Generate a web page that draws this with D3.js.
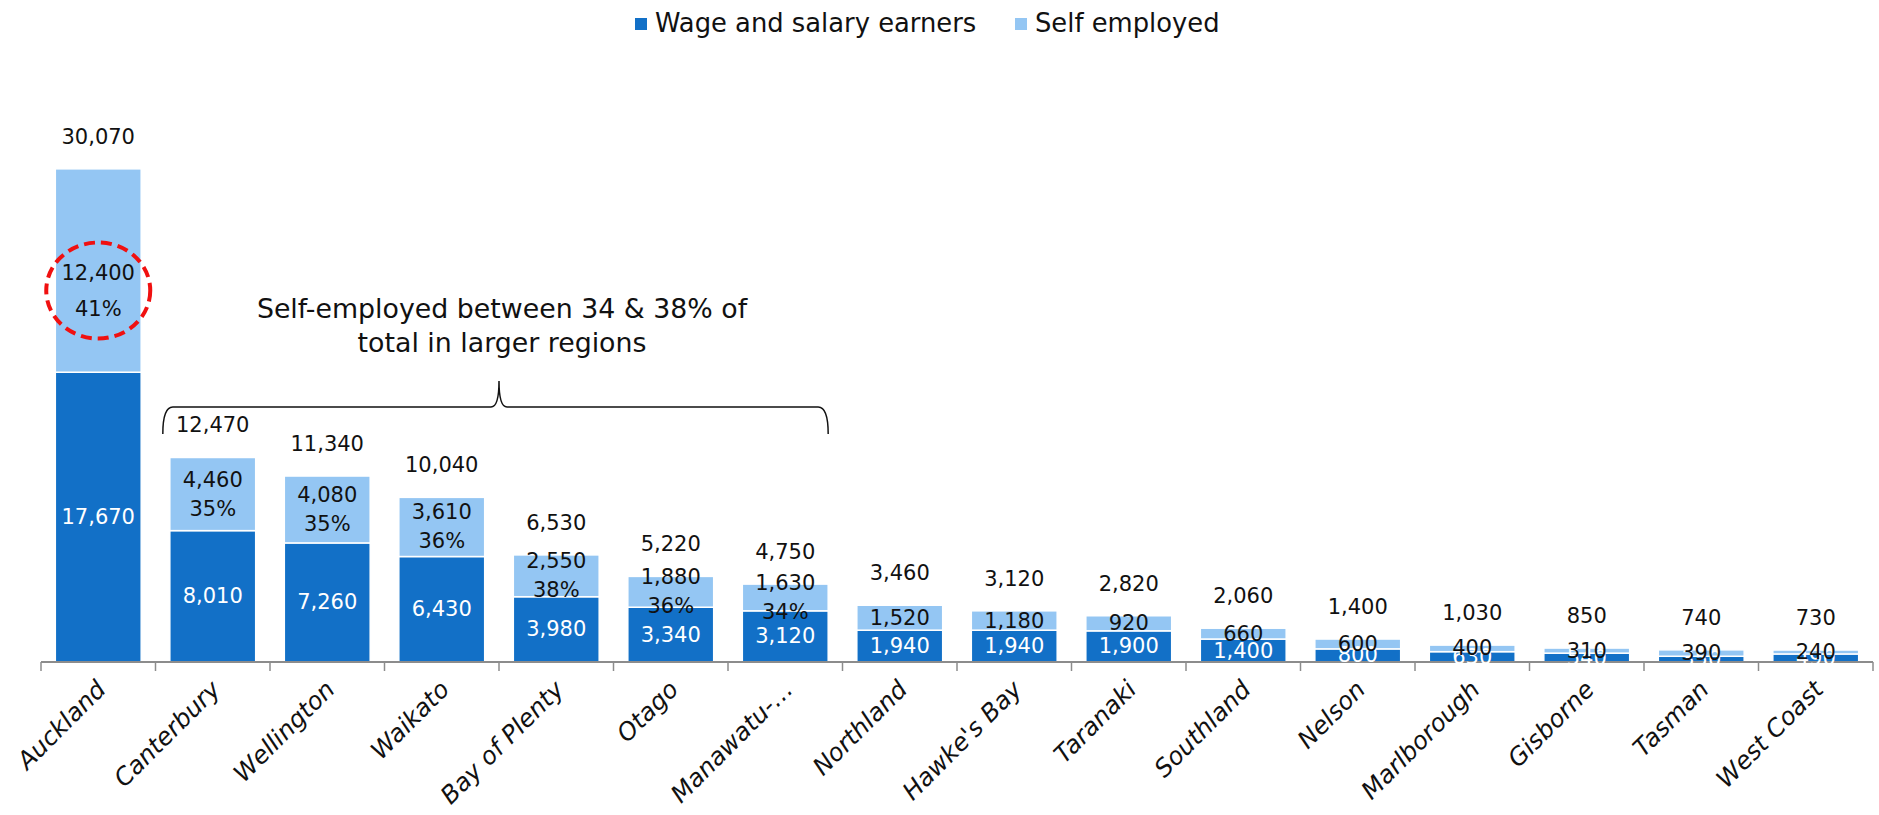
<!DOCTYPE html>
<html>
<head>
<meta charset="utf-8">
<script src="https://cdn.jsdelivr.net/npm/d3@7"></script>
<style>
  html, body { margin: 0; padding: 0; background: #fff; }
  svg { display: block; }
  text { font-family: "Century Gothic", "DejaVu Sans", sans-serif; }
</style>
</head>
<body>
<svg id="chart" width="1879" height="815"></svg>
<script>
// Regional employment: wage and salary earners vs self employed
const categories = ["Auckland", "Canterbury", "Wellington", "Waikato", "Bay of Plenty", "Otago",
  "Manawatu-…", "Northland", "Hawke's Bay", "Taranaki", "Southland", "Nelson",
  "Marlborough", "Gisborne", "Tasman", "West Coast"];
const wageEarners = [17670, 8010, 7260, 6430, 3980, 3340, 3120, 1940, 1940, 1900, 1400, 800, 630, 540, 350, 490];
const selfEmployed = [12400, 4460, 4080, 3610, 2550, 1880, 1630, 1520, 1180, 920, 660, 600, 400, 310, 390, 240];
const totals = [30070, 12470, 11340, 10040, 6530, 5220, 4750, 3460, 3120, 2820, 2060, 1400, 1030, 850, 740, 730];
const selfShare = ["41%", "35%", "35%", "36%", "38%", "36%", "34%"];
const seriesNames = ["Wage and salary earners", "Self employed"];
const seriesColors = ["#1270C7", "#94C6F3"];
const annotationLines = ["Self-employed between 34 & 38% of", "total in larger regions"];

const svg = d3.select("#chart");
const fmt = d3.format(",");

const x = d3.scaleBand().domain(categories).range([41, 1873]).paddingInner(0.25).paddingOuter(0.125);
const y = d3.scaleLinear().domain([0, 35000]).range([662, 88]);
const bw = x.bandwidth();
const step = x.step();

const rows = categories.map((c, i) => ({ cat: c, wage: wageEarners[i], self: selfEmployed[i], total: totals[i], share: selfShare[i] }));
const stack = d3.stack().keys(["wage", "self"])(rows);

// stacked bars
svg.append("g").selectAll("g").data(stack).join("g")
  .attr("fill", (d, i) => seriesColors[i])
  .selectAll("rect").data(d => d).join("rect")
  .attr("x", d => x(d.data.cat))
  .attr("y", d => y(d[1]))
  .attr("width", bw)
  .attr("height", d => y(d[0]) - y(d[1]))
  .attr("stroke", "#fff")
  .attr("stroke-width", 1.5);

// axis line with ticks at category boundaries
const axisG = svg.append("g");
axisG.append("line").attr("x1", x.range()[0]).attr("x2", x.range()[1])
  .attr("y1", y(0)).attr("y2", y(0)).attr("stroke", "#8c8c8c").attr("stroke-width", 2);
const bounds = categories.map(c => x(c) - step * x.paddingInner() / 2).concat([x.range()[1]]);
axisG.selectAll("line.tick").data(bounds).join("line").attr("class", "tick")
  .attr("x1", d => d).attr("x2", d => d)
  .attr("y1", y(0)).attr("y2", y(0) + 9)
  .attr("stroke", "#8c8c8c").attr("stroke-width", 1.5);

// category labels
axisG.selectAll("text").data(categories).join("text")
  .attr("transform", d => `translate(${x(d) + bw / 2 + 9},${y(0) + 29}) rotate(-45)`)
  .attr("text-anchor", "end")
  .attr("font-size", 24.5)
  .attr("font-style", "italic")
  .attr("fill", "#111")
  .text(d => d);

const labelSize = 21;
const highlightShift = 20;

// wage labels (white, centred in the dark segment)
svg.append("g").selectAll("text").data(rows).join("text")
  .attr("x", d => x(d.cat) + bw / 2)
  .attr("y", d => (y(0) + y(d.wage)) / 2)
  .attr("text-anchor", "middle").attr("dominant-baseline", "central")
  .attr("font-size", labelSize).attr("fill", "#fff")
  .text(d => fmt(d.wage));

// self-employed labels (value, plus share where given)
const selfG = svg.append("g");
rows.forEach((d, i) => {
  const cx = x(d.cat) + bw / 2;
  let cy = (y(d.wage) + y(d.wage + d.self)) / 2;
  const t = selfG.append("text").attr("text-anchor", "middle")
    .attr("font-size", labelSize).attr("fill", "#111");
  if (d.share) {
    const gap = i === 0 ? 36 : 29;
    if (i === 0) cy += highlightShift;
    t.append("tspan").attr("x", cx).attr("y", cy - gap / 2).attr("dominant-baseline", "central").text(fmt(d.self));
    t.append("tspan").attr("x", cx).attr("y", cy + gap / 2).attr("dominant-baseline", "central").text(d.share);
    if (i === 0) {
      svg.append("ellipse").attr("cx", cx).attr("cy", cy).attr("rx", 52).attr("ry", 48)
        .attr("fill", "none").attr("stroke", "#f01010").attr("stroke-width", 4)
        .attr("stroke-dasharray", "11,6");
    }
  } else {
    t.attr("x", cx).attr("y", cy).attr("dominant-baseline", "central").text(fmt(d.self));
  }
});

// totals above bars
svg.append("g").selectAll("text").data(rows).join("text")
  .attr("x", d => x(d.cat) + bw / 2)
  .attr("y", d => y(d.total) - 32)
  .attr("text-anchor", "middle").attr("dominant-baseline", "central")
  .attr("font-size", labelSize).attr("fill", "#111")
  .text(d => fmt(d.total));

// brace over the larger regions
const bx0 = x(categories[1]) - 7;
const bx1 = x(categories[6]) + bw;
const bmid = (x(categories[1]) + x(categories[6]) + bw) / 2;
const byLine = 407, byTip = 381, byEnd = 434;
const p = d3.path();
p.moveTo(bx0, byEnd);
p.quadraticCurveTo(bx0, byLine, bx0 + 10, byLine);
p.lineTo(bmid - 8, byLine);
p.quadraticCurveTo(bmid, byLine, bmid, byTip);
p.quadraticCurveTo(bmid, byLine, bmid + 8, byLine);
p.lineTo(bx1 - 10, byLine);
p.quadraticCurveTo(bx1, byLine, bx1, byEnd);
svg.append("path").attr("d", p.toString()).attr("fill", "none").attr("stroke", "#111").attr("stroke-width", 1.5);

svg.append("g").selectAll("text").data(annotationLines).join("text")
  .attr("x", bmid + 3)
  .attr("y", (d, i) => 308 + i * 34)
  .attr("text-anchor", "middle").attr("dominant-baseline", "central")
  .attr("font-size", 26.8).attr("fill", "#111")
  .text(d => d);

// legend
const legendX = [635, 1015];
const lg = svg.append("g");
seriesNames.forEach((name, i) => {
  lg.append("rect").attr("x", legendX[i]).attr("y", 18).attr("width", 12).attr("height", 12).attr("fill", seriesColors[i]);
  lg.append("text").attr("x", legendX[i] + 20).attr("y", 23).attr("dominant-baseline", "central")
    .attr("font-size", 25.8).attr("fill", "#111").text(name);
});
</script>
</body>
</html>
